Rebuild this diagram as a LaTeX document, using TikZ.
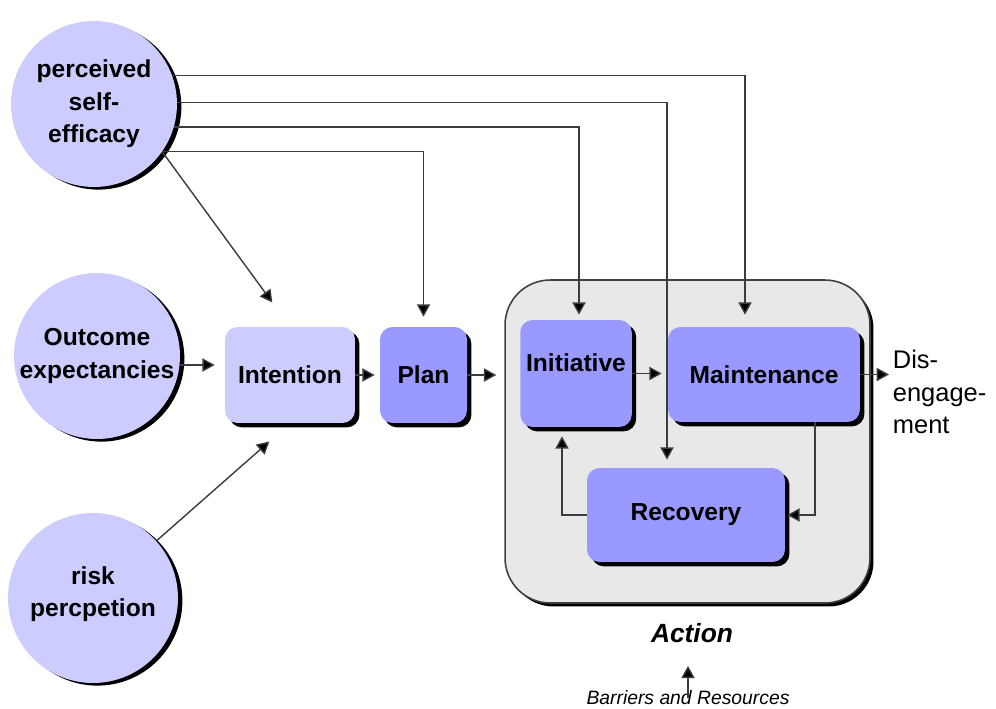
\documentclass[tikz,border=0pt]{standalone}
\usepackage{fontspec}
\setmainfont{Liberation Sans}
\usetikzlibrary{shadows,arrows.meta}
\definecolor{lav}{RGB}{204,204,255}
\definecolor{blu}{RGB}{153,153,255}
\definecolor{pane}{RGB}{232,232,232}
\definecolor{wire}{RGB}{60,60,60}
\tikzstyle{factor}=[circle, fill=lav, minimum size=3.32cm, inner sep=0pt, align=center, font=\fontsize{14}{18.5}\selectfont\bfseries, drop shadow={shadow xshift=2.5pt, shadow yshift=-1.5pt, fill=black, opacity=1}]
\tikzstyle{phase}=[rectangle, rounded corners=0.25cm, fill=blu, align=center, font=\fontsize{14}{18}\selectfont\bfseries, drop shadow={shadow xshift=2.5pt, shadow yshift=-2.5pt, fill=black, opacity=1}]
\tikzstyle{stage}=[rectangle, rounded corners=0.9cm, fill=pane, draw=black!75, line width=0.9pt, drop shadow={shadow xshift=2pt, shadow yshift=-2pt, fill=black, opacity=1}]
\tikzstyle{conn}=[draw=wire, line width=0.8pt, -{Triangle[length=7pt, width=7.5pt, fill=black]}]

\begin{document}
\begin{tikzpicture}[x=0.02cm, y=-0.02cm]
                    \useasboundingbox (0, 0) rectangle (996, 709);
                    \node[stage, minimum width=7.3cm, minimum height=6.46cm] (act) at (687.5, 441.5) {};
                    \node[factor] (se) at (94, 104) {perceived\\self-\\efficacy};
                    \node[factor] (oe) at (97, 356) {Outcome\\expectancies};
                    \node[factor, minimum size=3.4cm, text depth=0.25cm] (rp) at (93, 598) {risk\\percpetion};
                    \node[phase, fill=lav, minimum width=2.6cm, minimum height=1.92cm] (in) at (290, 375) {Intention};
                    \node[phase, minimum width=1.74cm, minimum height=1.92cm] (pl) at (423.5, 375) {Plan};
                    \node[phase, minimum width=2.16cm, minimum height=2.14cm, text depth=0.45cm] (ini) at (576, 373.5) {Initiative};
                    \node[phase, minimum width=3.84cm, minimum height=1.9cm] (mt) at (764, 374.5) {Maintenance};
                    \node[phase, minimum width=3.96cm, minimum height=1.88cm] (rc) at (686, 515) {Recovery};
                    \node[anchor=west, align=left, inner sep=2pt, font=\fontsize{14.5}{18.7}\selectfont] (dis) at (889, 392) {Dis-\\engage-\\ment};
                    \node[font=\fontsize{15}{18}\selectfont\bfseries\itshape] (lbl) at (692, 633) {Action};
                    \node[font=\fontsize{11}{13}\selectfont\itshape] (br) at (688, 698) {Barriers and Resources};
                    \draw[conn, shorten >=0.24cm] (se.20) -| ([xshift=-0.38cm]mt.north);
                    \draw[conn, shorten >=0.16cm] (se.1) -| ([xshift=-0.38cm]rc.north);
                    \draw[conn, shorten >=0.1cm] (se.-16) -| ([xshift=0.06cm]ini.north);
                    \draw[conn, shorten >=0.2cm] (se.-35) -| (pl.north);
                    \draw[conn, shorten >=0.6cm] (se.-35) -- (in.north);
                    \draw[conn, shorten >=0.55cm] (rp.42) -- (in.south);
                    \draw[conn, shorten >=0.2cm] ([yshift=0.2cm]in.west -| oe.east) -- ([yshift=0.2cm]in.west);
                    \draw[conn, shorten >=0.1cm] (in.east) -- (pl.west);
                    \draw[conn, shorten >=0.16cm] (pl.east) -- (pl.east -| act.west);
                    \draw[conn, shorten >=0.12cm] (ini.east) -- (ini.east -| mt.west);
                    \draw[conn] (mt.east) -- (mt.east -| dis.west);
                    \draw[conn, shorten >=0.04cm] ([xshift=1.02cm]mt.south) |- (rc.east);
                    \draw[conn, shorten >=0.18cm] (rc.west) -| ([xshift=-0.28cm]ini.south);
                    \draw[conn, shorten >=0.34cm] (br.center) -- (br.center |- lbl.south);
                \end{tikzpicture}
\end{document}
